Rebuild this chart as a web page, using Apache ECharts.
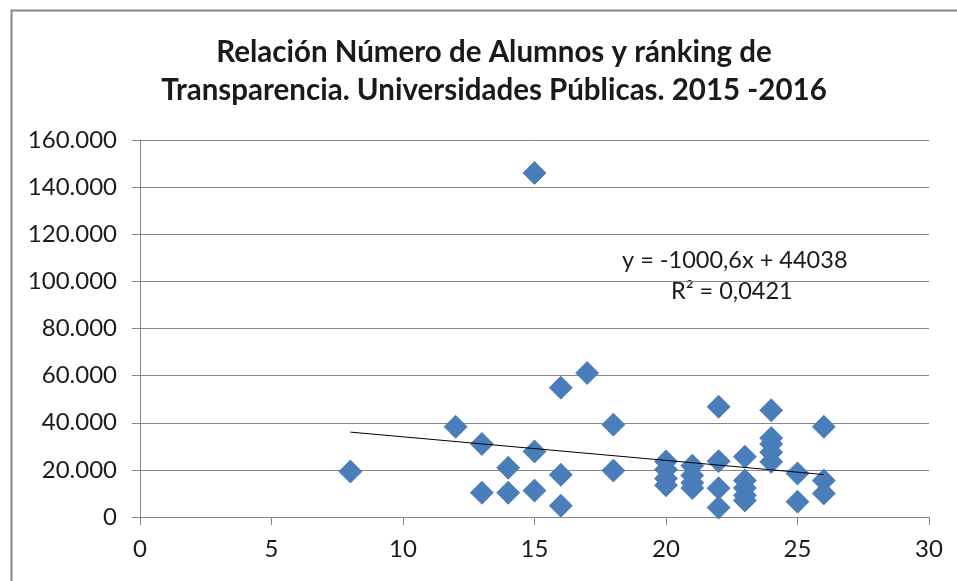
<!DOCTYPE html>
<html>
<head>
<meta charset="utf-8">
<script src="https://cdn.jsdelivr.net/npm/echarts@6/dist/echarts.min.js"></script>
<style>
html,body{margin:0;padding:0;background:#fff;}
#chart{width:957px;height:581px;}
</style>
</head>
<body>
<div id="chart"></div>
<script>
// Ranking de transparencia (x) y número de alumnos (y)
const ranking = [8, 12, 13, 13, 14, 14, 15, 15, 15, 16, 16, 16, 17, 18, 18,
  20, 20, 20, 20, 21, 21, 21, 21, 22, 22, 22, 22,
  23, 23, 23, 23, 23, 24, 24, 24, 24, 24, 25, 25, 26, 26, 26];
const alumnos = [19300, 38300, 31000, 10300, 20900, 10300, 146000, 27800, 11200, 54900, 17900, 4800, 61100, 39200, 19700,
  23600, 20200, 16300, 13500, 21800, 17600, 14500, 12300, 46800, 23700, 12200, 4000,
  25600, 15500, 12300, 9200, 7000, 45300, 33500, 31000, 27500, 23400, 18500, 6500, 38300, 15500, 10000];
const xTicks = [0, 5, 10, 15, 20, 25, 30];
const yTicks = [0, 20000, 40000, 60000, 80000, 100000, 120000, 140000, 160000];
const trendSlope = -1000.6;
const trendIntercept = 44038;
const trendRange = [8, 26];
const titleLines = ['Relación Número de Alumnos y ránking de', 'Transparencia. Universidades Públicas. 2015 -2016'];
const equationLines = ['y = -1000,6x + 44038', 'R² = 0,0421'];

const points = ranking.map((r, i) => [r, alumnos[i]]);
const trend = trendRange.map(x => [x, trendSlope * x + trendIntercept]);

function fmt(v) {
  return String(v).replace(/\B(?=(\d{3})+(?!\d))/g, '.');
}

const chart = echarts.init(document.getElementById('chart'), null, {renderer: 'canvas'});
chart.setOption({
  animation: false,
  backgroundColor: '#fff',
  title: {
    text: titleLines.join('\n'),
    left: 489, top: 28, textAlign: 'center',
    textStyle: {fontFamily: 'Lato', fontWeight: 'bold', fontSize: 29.5, color: '#1a1a1a', lineHeight: 38}
  },
  grid: {left: 140, right: 28, top: 140, bottom: 64, containLabel: false},
  xAxis: {
    type: 'value', min: xTicks[0], max: xTicks[xTicks.length - 1], interval: 5,
    axisLine: {show: true, onZero: false, lineStyle: {color: '#868686', width: 1}},
    axisTick: {show: true, length: 8, lineStyle: {color: '#868686'}},
    axisLabel: {fontFamily: 'Lato', fontSize: 24, color: '#1a1a1a', margin: 20},
    splitLine: {show: false}
  },
  yAxis: {
    type: 'value', min: yTicks[0], max: yTicks[yTicks.length - 1], interval: 20000,
    axisLine: {show: true, lineStyle: {color: '#868686', width: 1}},
    axisTick: {show: true, length: 8, lineStyle: {color: '#868686'}},
    axisLabel: {fontFamily: 'Lato', fontSize: 24, color: '#1a1a1a', margin: 23, formatter: v => fmt(v)},
    splitLine: {show: true, lineStyle: {color: '#868686', width: 1}}
  },
  series: [
    {
      type: 'scatter', data: points, symbol: 'diamond', symbolSize: [23, 23],
      itemStyle: {color: '#4a7ebb', opacity: 1, borderColor: '#4275b2', borderWidth: 0.8}, z: 3
    },
    {
      type: 'line', data: trend, symbol: 'none', showSymbol: false,
      lineStyle: {color: '#000', width: 1}, z: 4
    }
  ],
  graphic: [
    {type: 'rect', left: 9, top: 8, shape: {width: 1000, height: 640},
     style: {fill: 'none', stroke: '#868686', lineWidth: 2}, silent: true},
    {type: 'text', left: 622, top: 248, style: {text: equationLines[0], font: '23.5px Lato', fill: '#1a1a1a'}},
    {type: 'text', left: 671, top: 279, style: {text: equationLines[1], font: '23.5px Lato', fill: '#1a1a1a'}}
  ]
});
</script>
</body>
</html>
